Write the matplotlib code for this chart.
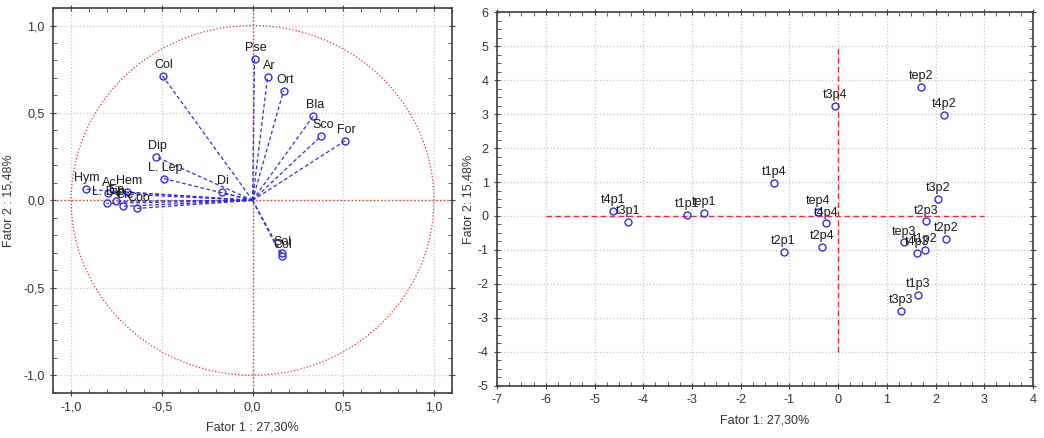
import numpy as np
import matplotlib
matplotlib.use("Agg")
import matplotlib.pyplot as plt
from matplotlib.ticker import FixedLocator, AutoMinorLocator, FuncFormatter

plt.rcParams['font.family'] = ['Liberation Sans', 'DejaVu Sans']
plt.rcParams['font.size'] = 9
plt.rcParams['axes.unicode_minus'] = False

# --- left panel: variable loadings (Fator 1 x Fator 2)
var_names = ["Pse", "Ar", "Ort", "Bla", "Sco", "For", "Col", "Dip", "L. Lep", "Di",
             "Hym", "Ac", "Hem", "L. Dip", "Ep", "Cic", "Coo", "Sol", "Col"]
var_f1 = [0.011, 0.083, 0.171, 0.336, 0.380, 0.512, -0.496, -0.534, -0.490, -0.171,
          -0.920, -0.795, -0.690, -0.805, -0.755, -0.715, -0.635, 0.160, 0.160]
var_f2 = [0.810, 0.707, 0.627, 0.484, 0.370, 0.342, 0.712, 0.250, 0.125, 0.046,
          0.063, 0.040, 0.046, -0.017, -0.005, -0.034, -0.046, -0.302, -0.319]

# --- right panel: case scores
case_names = ["tep2", "t4p2", "t3p4", "t1p4", "t4p1", "t3p1", "t1p1", "tep1", "tep4", "t4p4",
              "t2p1", "t2p4", "t3p2", "t2p3", "t2p2", "tep3", "t4p3", "t1p2", "t1p3", "t3p3"]
case_f1 = [1.70, 2.17, -0.06, -1.31, -4.62, -4.31, -3.11, -2.76, -0.41, -0.25,
           -1.12, -0.33, 2.04, 1.80, 2.21, 1.35, 1.62, 1.78, 1.64, 1.29]
case_f2 = [3.79, 2.97, 3.24, 0.97, 0.15, -0.18, 0.03, 0.09, 0.12, -0.22,
           -1.06, -0.92, 0.50, -0.16, -0.68, -0.78, -1.09, -1.01, -2.33, -2.79]

blue = "#3030d8"
red = "#e03030"
txt = "#1a1a1a"

fig = plt.figure(figsize=(10.44, 4.38), dpi=100)
ax1 = fig.add_axes([0.0508, 0.1034, 0.3822, 0.8783])
ax2 = fig.add_axes([0.4761, 0.1194, 0.5134, 0.8525])


def style_axes(ax):
    for s in ax.spines.values():
        s.set_color("#404040")
        s.set_linewidth(1.2)
    ax.tick_params(which="both", top=True, right=True, colors="#404040",
                   labelcolor="#333333", labelsize=9)
    ax.tick_params(which="major", direction="inout", length=5)
    ax.tick_params(which="minor", direction="in", length=3)
    ax.grid(True, which="major", color="#c8c8c8", linestyle=":", linewidth=0.9)
    ax.set_axisbelow(True)


comma = FuncFormatter(lambda v, p: f"{v:.1f}".replace(".", ","))

# left
t = np.linspace(0, 2 * np.pi, 400)
ax1.plot(np.cos(t), np.sin(t), color=red, linestyle=":", linewidth=0.9)
ax1.axhline(0, color=red, linestyle=":", linewidth=1.0)
ax1.axvline(0, color=red, linestyle=":", linewidth=1.0)
for x, y in zip(var_f1, var_f2):
    ax1.plot([0, x], [0, y], color=blue, linestyle="--", linewidth=0.9, dashes=(3, 2))
ax1.plot(var_f1, var_f2, "o", markersize=5, markerfacecolor="none",
         markeredgecolor=blue, markeredgewidth=1.0)
for n, x, y in zip(var_names, var_f1, var_f2):
    ax1.annotate(n, (x, y), xytext=(1, 3.5), textcoords="offset points",
                 ha="center", va="bottom", fontsize=9, color=txt)
ax1.set_xlim(-1.1, 1.1)
ax1.set_ylim(-1.1, 1.1)
ticks = [-1.0, -0.5, 0.0, 0.5, 1.0]
ax1.xaxis.set_major_locator(FixedLocator(ticks))
ax1.yaxis.set_major_locator(FixedLocator(ticks))
ax1.xaxis.set_major_formatter(comma)
ax1.yaxis.set_major_formatter(comma)
ax1.xaxis.set_minor_locator(AutoMinorLocator(5))
ax1.yaxis.set_minor_locator(AutoMinorLocator(5))
style_axes(ax1)
ax1.set_xlabel("Fator 1 : 27,30%", fontsize=9, color="#333333", labelpad=6)
ax1.set_ylabel("Fator 2 : 15,48%", fontsize=9, color="#333333", labelpad=6)

# right
ax2.plot([-6, 3], [0, 0], color=red, linestyle="--", linewidth=1.0, dashes=(4, 2.5))
ax2.plot([0, 0], [-4, 5], color=red, linestyle="--", linewidth=1.0, dashes=(4, 2.5))
ax2.plot(case_f1, case_f2, "o", markersize=5, markerfacecolor="none",
         markeredgecolor=blue, markeredgewidth=1.0)
for n, x, y in zip(case_names, case_f1, case_f2):
    ax2.annotate(n, (x, y), xytext=(0, 3.5), textcoords="offset points",
                 ha="center", va="bottom", fontsize=9, color=txt)
ax2.set_xlim(-7, 4)
ax2.set_ylim(-5, 6)
ax2.xaxis.set_major_locator(FixedLocator(range(-7, 5)))
ax2.yaxis.set_major_locator(FixedLocator(range(-5, 7)))
ax2.xaxis.set_minor_locator(AutoMinorLocator(4))
ax2.yaxis.set_minor_locator(AutoMinorLocator(4))
style_axes(ax2)
ax2.set_xlabel("Fator 1: 27,30%", fontsize=9, color="#333333", labelpad=6)
ax2.set_ylabel("Fator 2: 15,48%", fontsize=9, color="#333333", labelpad=2)

fig.savefig("out.png", dpi=100)
